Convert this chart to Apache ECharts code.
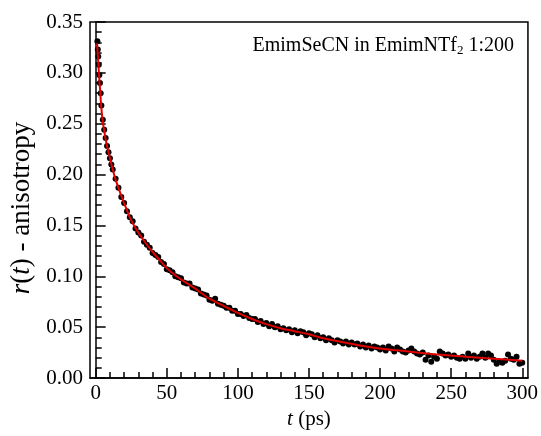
<!DOCTYPE html>
<html>
<head>
<meta charset="utf-8">
<script src="https://cdn.jsdelivr.net/npm/echarts@6/dist/echarts.min.js"></script>
<style>
  html, body { margin: 0; padding: 0; background: #fff; }
  #chart { width: 541px; height: 436px; }
</style>
</head>
<body>
<div id="chart"></div>
<script>
// measured anisotropy (black dots)
const dotT = [1.2, 1.5, 1.8, 2.2, 2.6, 3, 3.5, 4, 5, 6, 7, 8, 9, 10, 11,
  12, 14, 16, 18, 20, 22, 24, 26, 28, 30, 32, 34, 36, 38, 40, 42, 44, 46, 48, 50,
  52, 54, 56, 58, 60, 62, 64, 66, 68, 70, 72, 74, 76, 78, 80, 82, 84, 86, 88, 90,
  92, 94, 96, 98, 100, 102, 104, 106, 108, 110, 112, 114, 116, 118, 120, 122, 124, 126, 128, 130,
  132, 134, 136, 138, 140, 142, 144, 146, 148, 150, 152, 154, 156, 158, 160, 162, 164, 166, 168, 170,
  172, 174, 176, 178, 180, 182, 184, 186, 188, 190, 192, 194, 196, 198, 200, 202, 204, 206, 208, 210,
  212, 214, 216, 218, 220, 222, 224, 226, 228, 230, 232, 234, 236, 238, 240, 242, 244, 246, 248, 250,
  252, 254, 256, 258, 260, 262, 264, 266, 268, 270, 272, 274, 276, 278, 280, 282, 284, 286, 288, 290,
  292, 294, 296, 298, 300];
const dotR = [0.331, 0.323, 0.316, 0.308, 0.298, 0.290, 0.280, 0.268, 0.254, 0.244, 0.236, 0.228, 0.222, 0.216, 0.210,
  0.205, 0.196, 0.187, 0.178, 0.172, 0.164, 0.158, 0.154, 0.147, 0.143, 0.140, 0.134, 0.131, 0.128, 0.123, 0.121, 0.119, 0.114, 0.112, 0.107,
  0.106, 0.104, 0.100, 0.099, 0.098, 0.094, 0.093, 0.093, 0.089, 0.088, 0.087, 0.083, 0.082, 0.081, 0.077, 0.076, 0.078, 0.073, 0.072, 0.071,
  0.069, 0.069, 0.066, 0.066, 0.063, 0.063, 0.061, 0.062, 0.059, 0.058, 0.058, 0.055, 0.056, 0.053, 0.054, 0.051, 0.053, 0.050, 0.051, 0.048,
  0.049, 0.047, 0.048, 0.045, 0.047, 0.044, 0.046, 0.045, 0.042, 0.044, 0.043, 0.040, 0.042, 0.039, 0.040, 0.037, 0.039, 0.037, 0.035, 0.037,
  0.036, 0.034, 0.036, 0.033, 0.035, 0.033, 0.034, 0.031, 0.033, 0.030, 0.032, 0.029, 0.031, 0.030, 0.028, 0.030, 0.027, 0.031, 0.029, 0.026,
  0.030, 0.028, 0.026, 0.025, 0.027, 0.029, 0.026, 0.024, 0.023, 0.025, 0.018, 0.022, 0.016, 0.021, 0.019, 0.026, 0.024, 0.022, 0.023, 0.021,
  0.022, 0.020, 0.019, 0.021, 0.019, 0.024, 0.020, 0.022, 0.019, 0.021, 0.024, 0.020, 0.024, 0.022, 0.018, 0.014, 0.016, 0.015, 0.017, 0.023,
  0.019, 0.018, 0.021, 0.014, 0.015];

// fit (red line)
const fitT = [1, 1.5, 2, 2.5, 3, 4, 5, 6, 7, 8, 10, 12, 14, 17, 20, 25, 30, 35, 40, 45, 50, 55, 60, 70, 80, 90,
  100, 110, 120, 130, 140, 150, 160, 175, 190, 200, 220, 240, 260, 280, 300];
const fitR = [0.329, 0.317, 0.306, 0.295, 0.285, 0.265, 0.252, 0.243, 0.235, 0.228, 0.216, 0.205, 0.195, 0.183, 0.172, 0.155, 0.143, 0.133, 0.124, 0.116, 0.108, 0.102, 0.097, 0.088, 0.078, 0.071,
  0.064, 0.058, 0.053, 0.049, 0.046, 0.043, 0.039, 0.035, 0.031, 0.029, 0.026, 0.023, 0.021, 0.019, 0.017];

const xMajor = [0, 50, 100, 150, 200, 250, 300];
const xMinor = [10, 20, 30, 40, 60, 70, 80, 90, 110, 120, 130, 140, 160, 170, 180, 190, 210, 220, 230, 240, 260, 270, 280, 290];

const serif = "Liberation Serif";
const chart = echarts.init(document.getElementById("chart"));

chart.setOption({
  animation: false,
  grid: { left: 90, right: 9, top: 22, bottom: 58, show: true, borderColor: "#000", borderWidth: 1.5, backgroundColor: "transparent" },
  xAxis: [
    {
      type: "value", min: -4, max: 304,
      name: "{i|t} (ps)", nameLocation: "middle", nameGap: 28,
      nameTextStyle: { fontFamily: serif, fontSize: 21, color: "#000", rich: { i: { fontFamily: serif, fontSize: 21, fontStyle: "italic", color: "#000" } } },
      axisLine: { lineStyle: { color: "#000", width: 1.5 } },
      axisTick: { inside: true, length: 10, lineStyle: { color: "#000", width: 1.5 }, customValues: xMajor },
      axisLabel: { customValues: xMajor, fontFamily: serif, fontSize: 21, color: "#000", margin: 5 },
      splitLine: { show: false },
    },
    {
      type: "value", min: -4, max: 304, position: "bottom",
      axisLine: { show: false },
      axisTick: { inside: true, length: 6, lineStyle: { color: "#000", width: 1.5 }, customValues: xMinor },
      axisLabel: { show: false },
      splitLine: { show: false },
    },
  ],
  yAxis: {
    type: "value", min: 0, max: 0.35, interval: 0.05,
    axisLine: { lineStyle: { color: "#000", width: 1.5 } },
    axisTick: { inside: true, length: 10, lineStyle: { color: "#000", width: 1.5 } },
    minorTick: { show: true, splitNumber: 5, length: 6, lineStyle: { color: "#000", width: 1.5 } },
    axisLabel: { fontFamily: serif, fontSize: 21, color: "#000", margin: 7, formatter: (v) => v.toFixed(2) },
    splitLine: { show: false },
  },
  graphic: [
    {
      type: "text", x: 22, y: 208, rotation: Math.PI / 2,
      style: {
        text: "{i|r}({i|t}) - anisotropy",
        font: "27px " + serif, fill: "#000", align: "center", verticalAlign: "middle",
        rich: { i: { fontFamily: serif, fontSize: 27, fontStyle: "italic", fill: "#000" } },
      },
    },
    {
      type: "text", right: 27, top: 36,
      style: {
        text: "EmimSeCN in EmimNTf{s|2} 1:200",
        font: "20px " + serif, fill: "#000",
        rich: { s: { fontFamily: serif, fontSize: 13, fill: "#000", padding: [9, 0, 0, 0] } },
      },
    },
  ],
  series: [
    {
      type: "scatter", symbol: "circle", symbolSize: 6,
      itemStyle: { color: "#000", opacity: 1 },
      data: dotT.map((t, i) => [t, dotR[i]]),
      z: 2,
    },
    {
      type: "line", showSymbol: false, smooth: 0.3,
      lineStyle: { color: "#e00000", width: 2 },
      data: fitT.map((t, i) => [t, fitR[i]]),
      z: 3,
    },
  ],
});
</script>
</body>
</html>
